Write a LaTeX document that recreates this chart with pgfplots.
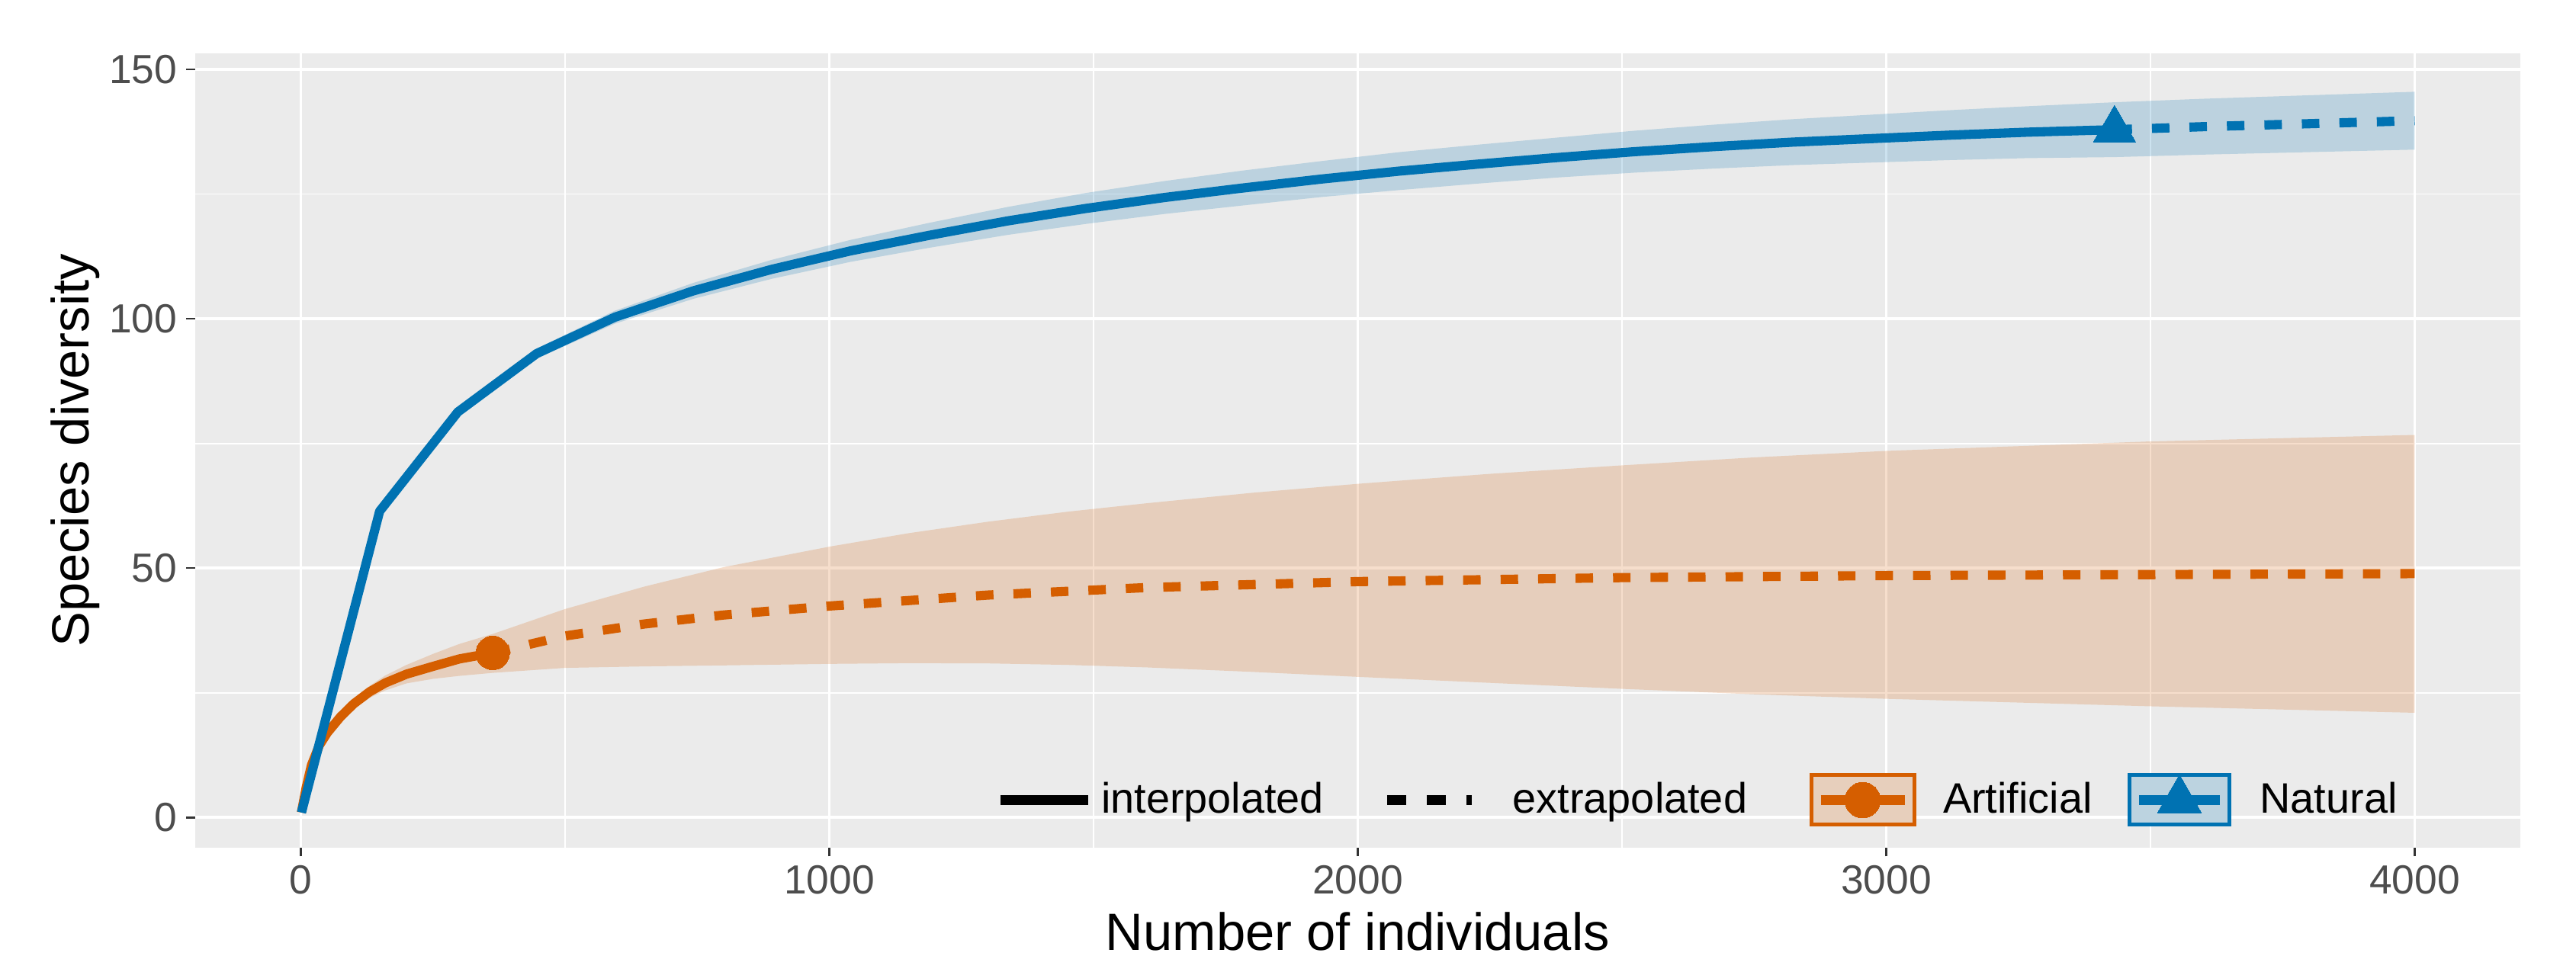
\documentclass[border=0pt]{standalone}
\usepackage{fontspec}
\setmainfont{Liberation Sans}
\usepackage{pgfplots}
\pgfplotsset{compat=1.18}

\definecolor{orn}{HTML}{D55E00}
\definecolor{blu}{HTML}{0072B2}
\definecolor{panel}{HTML}{EBEBEB}
\definecolor{ticktxt}{HTML}{4D4D4D}
\definecolor{tickcol}{HTML}{333333}
\definecolor{ornfill}{HTML}{E7CFBC}
\definecolor{blufill}{HTML}{BCD3E0}

\begin{document}
\begin{tikzpicture}
\begin{axis}[
  name=ax,
  scale only axis, width=731.8pt, height=250pt,
  xmin=-200, xmax=4200, ymin=-6, ymax=153.2,
  axis lines*=left, axis line style={draw=none},
  axis background/.style={fill=panel},
  xtick={0,1000,2000,3000,4000}, ytick={0,50,100,150},
  minor xtick={500,1500,2500,3500}, minor ytick={25,75,125},
  grid=both,
  major grid style={white, line width=0.9pt},
  minor grid style={white, line width=0.45pt},
  tick align=outside, major tick length=2.8pt, minor tick length=0pt,
  tick style={tickcol, line width=0.6pt},
  scaled ticks=false,
  /pgf/number format/1000 sep={},
  /pgf/number format/assume math mode=true,
  ticklabel style={font=\fontsize{12.8pt}{14pt}\selectfont, text=ticktxt, inner sep=0pt},
  yticklabel style={anchor=east},
  xticklabel style={anchor=north},
  yticklabel shift=2.7pt,
  xticklabel shift=2.6pt,
  xlabel={Number of individuals},
  ylabel={Species diversity},
  label style={font=\fontsize{16.5pt}{18pt}\selectfont, inner sep=0pt},
  xlabel style={at={(axis description cs:0.5,-0.1296)}, anchor=base},
  ylabel style={at={(axis description cs:-0.0459,0.5)}, anchor=base},
  legend columns=4,
  legend style={draw=none, fill=none, inner sep=0pt, outer sep=0pt,
    column sep=0pt, row sep=0pt,
    nodes={inner sep=0pt, font=\fontsize{13.4pt}{15pt}\selectfont, text=black},
    at={(axis cs:1315,3.5)}, anchor=west},
]

% ribbons
\addplot[draw=none, fill=orn, fill opacity=0.2, forget plot] coordinates {
(1,1) (10,6.3) (20,11) (35,15.2) (50,17.8) (75,21.2) (100,23.9) (130,26.4)
(160,28.5) (200,30.6) (250,32.8) (300,34.8) (363,36.8) (500,41.8) (650,46.3)
(800,50.2) (1000,54.3) (1150,57.0) (1300,59.3) (1450,61.3) (1600,63.0)
(1800,65.1) (2000,66.9) (2250,68.9) (2500,70.6) (2750,72.2) (3000,73.5)
(3500,75.4) (4000,76.7)
(4000,21.0) (3500,22.3) (3000,23.8) (2750,24.7) (2500,25.8) (2250,27.0)
(2000,28.2) (1800,29.2) (1600,30.1) (1450,30.6) (1300,30.9) (1150,30.95)
(1000,30.8) (800,30.5) (650,30.3) (500,30.0) (363,29.0)
(300,28.4) (250,27.8) (200,26.9) (160,25.5) (130,24.0) (100,21.7) (75,19.2)
(50,16.2) (35,13.8) (20,10.0) (10,5.7) (1,1)
};
\addplot[draw=none, fill=blu, fill opacity=0.2, forget plot] coordinates {
(1,1.0) (149,61.8) (297,82.0) (446,94.0) (594,101.6) (743,107.2) (891,111.8)
(1040,115.8) (1188,119.2) (1337,122.4) (1485,125.2) (1634,127.6) (1782,129.7)
(1931,131.6) (2079,133.4) (2228,134.9) (2376,136.3) (2525,137.7) (2673,138.9)
(2822,140.0) (2970,140.9) (3119,141.8) (3267,142.6) (3432,143.4) (3600,144.1)
(3800,144.8) (4000,145.5)
(4000,133.9) (3800,133.4) (3600,132.9) (3432,132.4) (3267,132.2) (3119,131.8)
(2970,131.3) (2822,130.8) (2673,130.1) (2525,129.3) (2376,128.3) (2228,127.1)
(2079,125.8) (1931,124.4) (1782,122.7) (1634,121.0) (1485,119.0) (1337,116.8)
(1188,114.2) (1040,111.4) (891,108.0) (743,104.0) (594,99.0) (446,92.0)
(297,80.6) (149,61.0) (1,1.0)
};

% Artificial
\addplot[orn, line width=2.9pt, line join=round, forget plot] coordinates {
(1,1) (10,6) (20,10.5) (35,14.5) (50,17) (75,20.2) (100,22.8) (130,25.2)
(160,27) (200,28.75) (250,30.3) (300,31.8) (363,33)
};
\addplot[orn, line width=2.9pt, dash pattern=on 5.5pt off 6.3pt, forget plot] coordinates {
(363,33) (500,36.4) (650,38.8) (800,40.6) (1000,42.4) (1300,44.6) (1600,46.1)
(2000,47.3) (2500,48.1) (3000,48.5) (3500,48.7) (4000,48.9)
};

% Natural
\addplot[blu, line width=2.9pt, line join=round, forget plot] coordinates {
(1,1.0) (149,61.4) (297,81.3) (446,93.0) (594,100.3) (743,105.6) (891,109.9)
(1040,113.6) (1188,116.7) (1337,119.6) (1485,122.1) (1634,124.3) (1782,126.2)
(1931,128.0) (2079,129.6) (2228,131.0) (2376,132.3) (2525,133.5) (2673,134.5)
(2822,135.4) (2970,136.1) (3119,136.8) (3267,137.4) (3432,137.9)
};
\addplot[blu, line width=2.9pt, dash pattern=on 5.5pt off 6.3pt, forget plot] coordinates {
(3432,137.9) (3600,138.5) (3800,139.1) (4000,139.7)
};

% observed points
\addplot[orn, only marks, mark=*, mark size=5.3pt, mark options={solid, fill=orn, draw=orn, line width=0pt}, forget plot]
  coordinates {(363,33)};
\addplot[blu, only marks, mark=triangle*, mark size=7.7pt, mark options={solid, fill=blu, draw=blu, line width=0pt}, forget plot]
  coordinates {(3432,137.9)};

% legend
\addlegendimage{legend image code/.code={
  \path[draw=none, fill=none] (0pt,-7.8pt) rectangle (31.68pt,7.8pt);
  \draw[black, line width=3pt] (0pt,0pt) -- (27.6pt,0pt);
}}
\addlegendentry{interpolated}
\addlegendimage{legend image code/.code={
  \path[draw=none, fill=none] (-19.92pt,-7.8pt) rectangle (39.6pt,7.8pt);
  \draw[black, line width=3pt, dash pattern=on 6pt off 6.5pt] (0pt,0pt) -- (26.6pt,0pt);
}}
\addlegendentry{extrapolated}
\addlegendimage{legend image code/.code={
  \path[draw=none, fill=none] (-20.16pt,-7.8pt) rectangle (41.52pt,7.8pt);
  \draw[orn, fill=ornfill, line width=1.2pt] (0pt,-7.8pt) rectangle (32.4pt,7.8pt);
  \draw[orn, line width=3pt] (3pt,0pt) -- (29.4pt,0pt);
  \draw[orn, mark=*, mark size=5.6pt, mark options={solid, fill=orn, draw=orn, line width=0pt}] plot coordinates {(16.2pt,0pt)};
}}
\addlegendentry{Artificial}
\addlegendimage{legend image code/.code={
  \path[draw=none, fill=none] (-11.76pt,-7.8pt) rectangle (41.04pt,7.8pt);
  \draw[blu, fill=blufill, line width=1.2pt] (0pt,-7.8pt) rectangle (31.44pt,7.8pt);
  \draw[blu, line width=3pt] (3pt,0pt) -- (28.44pt,0pt);
  \draw[blu, mark=triangle*, mark size=8pt, mark options={solid, fill=blu, draw=blu, line width=0pt}] plot coordinates {(15.72pt,0pt)};
}}
\addlegendentry{Natural}
\end{axis}
\path ([xshift=-61.44pt,yshift=-39.12pt]ax.south west) rectangle ([xshift=17.52pt,yshift=16.8pt]ax.north east);
\end{tikzpicture}
\end{document}
